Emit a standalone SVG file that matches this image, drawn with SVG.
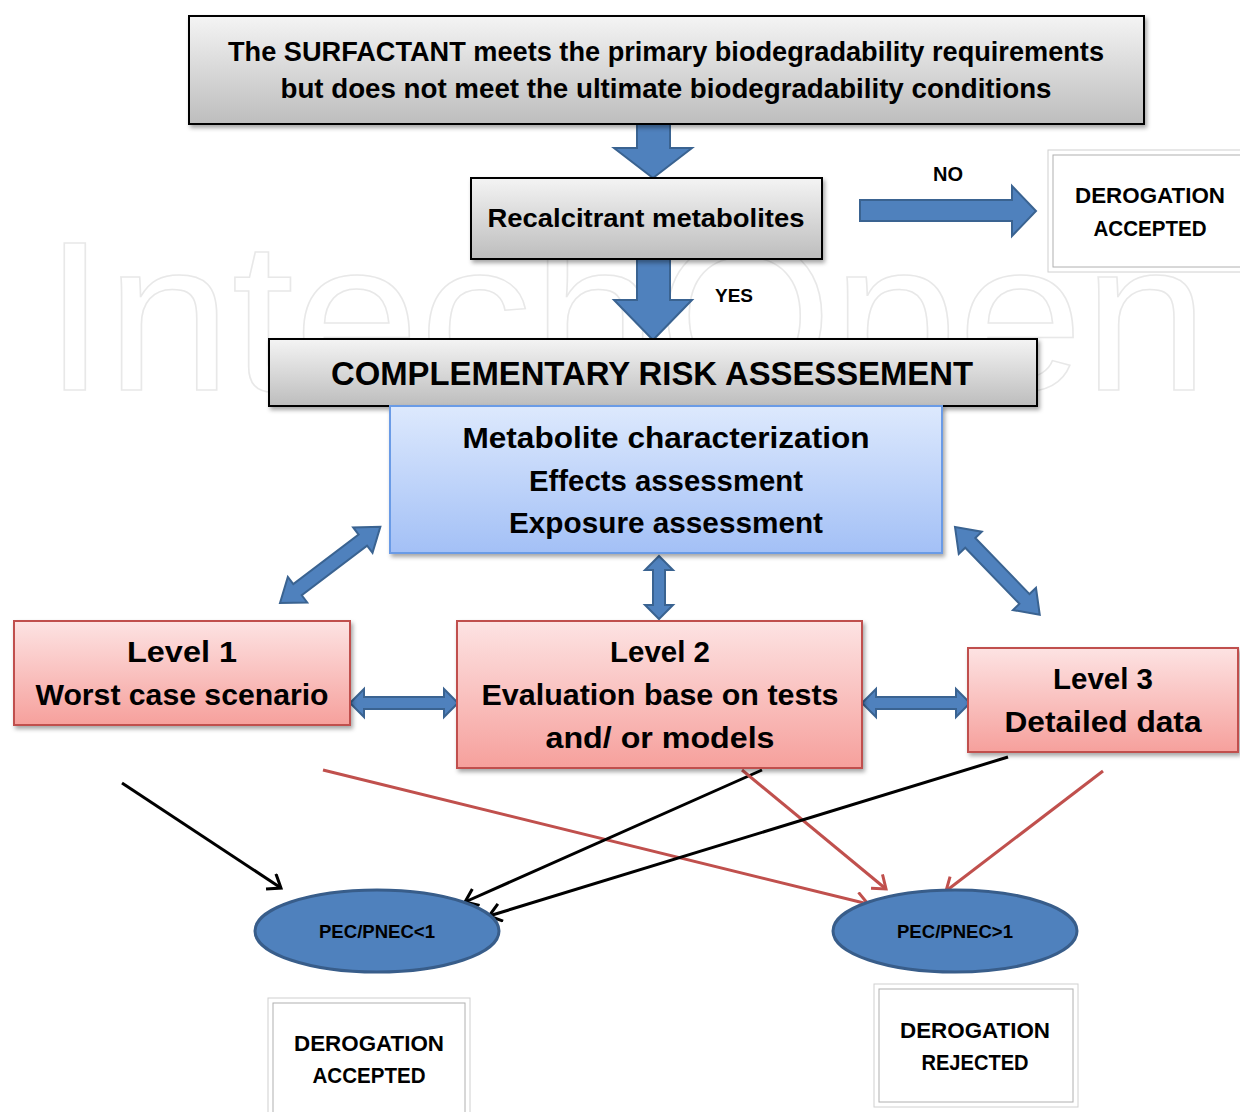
<svg xmlns="http://www.w3.org/2000/svg" width="1240" height="1112" viewBox="0 0 1240 1112">
<defs>
<linearGradient id="gGray" x1="0" y1="0" x2="0" y2="1"><stop offset="0" stop-color="#f4f4f4"/><stop offset="1" stop-color="#bdbdbd"/></linearGradient>
<linearGradient id="gBlue" x1="0" y1="0" x2="0" y2="1"><stop offset="0" stop-color="#dde9fd"/><stop offset="1" stop-color="#a3c0f6"/></linearGradient>
<linearGradient id="gPink" x1="0" y1="0" x2="0" y2="1"><stop offset="0" stop-color="#fde3e3"/><stop offset="1" stop-color="#f6a09c"/></linearGradient>
<filter id="sh" x="-5%" y="-10%" width="110%" height="130%"><feDropShadow dx="2" dy="3" stdDeviation="2" flood-color="#000" flood-opacity="0.35"/></filter>
<marker id="mBlack" markerUnits="userSpaceOnUse" markerWidth="30" markerHeight="30" refX="14" refY="10" orient="auto"><path d="M2,1 L14,10 L2,19" fill="none" stroke="#000" stroke-width="3"/></marker>
<marker id="mRed" markerUnits="userSpaceOnUse" markerWidth="30" markerHeight="30" refX="14" refY="10" orient="auto"><path d="M2,1 L14,10 L2,19" fill="none" stroke="#c0504d" stroke-width="3"/></marker>
</defs>
<style>
.t{font-family:"Liberation Sans",Arial,sans-serif;font-weight:bold;fill:#000;text-anchor:middle}
.gray{fill:url(#gGray);stroke:#000;stroke-width:2}
.pink{fill:url(#gPink);stroke:#c0504d;stroke-width:2}
.blue{fill:url(#gBlue);stroke:#6a9be6;stroke-width:2}
.barrow{fill:#4f81bd;stroke:#3a6391;stroke-width:2}
.white{fill:#fff;stroke:#d0d0d0;stroke-width:1}
.white2{fill:none;stroke:#b0b0b0;stroke-width:1}
.bl{stroke:#000;stroke-width:3;fill:none}
.rd{stroke:#c0504d;stroke-width:3;fill:none}
.ell{fill:#4f81bd;stroke:#385d8a;stroke-width:3}
</style>
<rect width="1240" height="1112" fill="#fff"/>
<text x="626" y="390" font-family="Liberation Sans, Arial, sans-serif" font-size="214" fill="none" stroke="#e8e8e8" stroke-width="1.5" text-anchor="middle" textLength="1165" lengthAdjust="spacingAndGlyphs">IntechOpen</text>

<g id="connectors">
<polygon class="barrow" points="637,124 670,124 670,148 692,148 653,178 614,148 637,148"/>
<polygon class="barrow" points="637,259 670,259 670,300 692,300 653,340 614,300 637,300"/>
<polygon class="barrow" points="860,200 1012,200 1012,186 1036,211 1012,236 1012,221 860,221"/>
<g transform="translate(280,603) rotate(-37.2)"><polygon class="barrow" points="0,0 22,-16 22,-7 104,-7 104,-16 126,0 104,16 104,7 22,7 22,16"/></g>
<g transform="translate(659,556) rotate(90)"><polygon class="barrow" points="0,0 14,-14 14,-6 49,-6 49,-14 63,0 49,14 49,6 14,6 14,14"/></g>
<g transform="translate(955,527) rotate(46)"><polygon class="barrow" points="0,0 22,-16 22,-7 100,-7 100,-16 122,0 100,16 100,7 22,7 22,16"/></g>
<g transform="translate(350,703)"><polygon class="barrow" points="0,0 14,-14 14,-6 94,-6 94,-14 108,0 94,14 94,6 14,6 14,14"/></g>
<g transform="translate(862,703)"><polygon class="barrow" points="0,0 14,-14 14,-6 94,-6 94,-14 108,0 94,14 94,6 14,6 14,14"/></g>
<line class="bl" x1="122" y1="783" x2="281" y2="888" marker-end="url(#mBlack)"/>
<line class="rd" x1="323" y1="770" x2="868" y2="904" marker-end="url(#mRed)"/>
<line class="bl" x1="762" y1="770" x2="465" y2="902" marker-end="url(#mBlack)"/>
<line class="rd" x1="742" y1="770" x2="886" y2="889" marker-end="url(#mRed)"/>
<line class="bl" x1="1008" y1="757" x2="489" y2="916" marker-end="url(#mBlack)"/>
<line class="rd" x1="1103" y1="771" x2="946" y2="891" marker-end="url(#mRed)"/>
<text class="t" x="948" y="181" font-size="20">NO</text>
<text class="t" x="734" y="302" font-size="19">YES</text>
</g>

<g id="top">
<rect class="gray" x="189" y="16" width="955" height="108" filter="url(#sh)"/>
<text class="t" x="666" y="61" font-size="27" textLength="876" lengthAdjust="spacingAndGlyphs">The SURFACTANT meets the primary biodegradability requirements</text>
<text class="t" x="666" y="98" font-size="27" textLength="771" lengthAdjust="spacingAndGlyphs">but does not meet the ultimate biodegradability conditions</text>
</g>

<g id="recalcitrant">
<rect class="gray" x="471" y="178" width="351" height="81" filter="url(#sh)"/>
<text class="t" x="646" y="227" font-size="26" textLength="317" lengthAdjust="spacingAndGlyphs">Recalcitrant metabolites</text>
</g>

<g id="derog-top">
<rect class="white" x="1048" y="150" width="200" height="122"/>
<rect class="white2" x="1053" y="155" width="195" height="112"/>
<text class="t" x="1150" y="203" font-size="22" textLength="150" lengthAdjust="spacingAndGlyphs">DEROGATION</text>
<text class="t" x="1150" y="236" font-size="22" textLength="113" lengthAdjust="spacingAndGlyphs">ACCEPTED</text>
</g>

<g id="complementary">
<rect class="gray" x="269" y="339" width="768" height="67" filter="url(#sh)"/>
<text class="t" x="652" y="385" font-size="33" textLength="642" lengthAdjust="spacingAndGlyphs">COMPLEMENTARY RISK ASSESSEMENT</text>
</g>

<g id="assessment">
<rect class="blue" x="390" y="406" width="552" height="147" filter="url(#sh)"/>
<text class="t" x="666" y="448" font-size="30" textLength="407" lengthAdjust="spacingAndGlyphs">Metabolite characterization</text>
<text class="t" x="666" y="491" font-size="30" textLength="274" lengthAdjust="spacingAndGlyphs">Effects assessment</text>
<text class="t" x="666" y="533" font-size="30" textLength="314" lengthAdjust="spacingAndGlyphs">Exposure assessment</text>
</g>

<g id="level1">
<rect class="pink" x="14" y="621" width="336" height="104" filter="url(#sh)"/>
<text class="t" x="182" y="662" font-size="29" textLength="110" lengthAdjust="spacingAndGlyphs">Level  1</text>
<text class="t" x="182" y="705" font-size="29" textLength="293" lengthAdjust="spacingAndGlyphs">Worst case scenario</text>
</g>

<g id="level2">
<rect class="pink" x="457" y="621" width="405" height="147" filter="url(#sh)"/>
<text class="t" x="660" y="662" font-size="29" textLength="100" lengthAdjust="spacingAndGlyphs">Level 2</text>
<text class="t" x="660" y="705" font-size="29" textLength="357" lengthAdjust="spacingAndGlyphs">Evaluation base on tests</text>
<text class="t" x="660" y="748" font-size="29" textLength="229" lengthAdjust="spacingAndGlyphs">and/ or models</text>
</g>

<g id="level3">
<rect class="pink" x="968" y="648" width="270" height="104" filter="url(#sh)"/>
<text class="t" x="1103" y="689" font-size="29" textLength="100" lengthAdjust="spacingAndGlyphs">Level 3</text>
<text class="t" x="1103" y="732" font-size="29" textLength="197" lengthAdjust="spacingAndGlyphs">Detailed data</text>
</g>

<g id="pec-lt">
<ellipse class="ell" cx="377" cy="931" rx="122" ry="41"/>
<text class="t" x="377" y="938" font-size="18" textLength="116" lengthAdjust="spacingAndGlyphs">PEC/PNEC&lt;1</text>
</g>

<g id="pec-gt">
<ellipse class="ell" cx="955" cy="931" rx="122" ry="41"/>
<text class="t" x="955" y="938" font-size="18" textLength="116" lengthAdjust="spacingAndGlyphs">PEC/PNEC&gt;1</text>
</g>

<g id="derog-accepted">
<rect class="white" x="268" y="998" width="202" height="120"/>
<rect class="white2" x="273" y="1003" width="192" height="115"/>
<text class="t" x="369" y="1051" font-size="22" textLength="150" lengthAdjust="spacingAndGlyphs">DEROGATION</text>
<text class="t" x="369" y="1083" font-size="22" textLength="113" lengthAdjust="spacingAndGlyphs">ACCEPTED</text>
</g>

<g id="derog-rejected">
<rect class="white" x="874" y="984" width="204" height="123"/>
<rect class="white2" x="879" y="989" width="194" height="113"/>
<text class="t" x="975" y="1038" font-size="22" textLength="150" lengthAdjust="spacingAndGlyphs">DEROGATION</text>
<text class="t" x="975" y="1070" font-size="22" textLength="107" lengthAdjust="spacingAndGlyphs">REJECTED</text>
</g>
</svg>
